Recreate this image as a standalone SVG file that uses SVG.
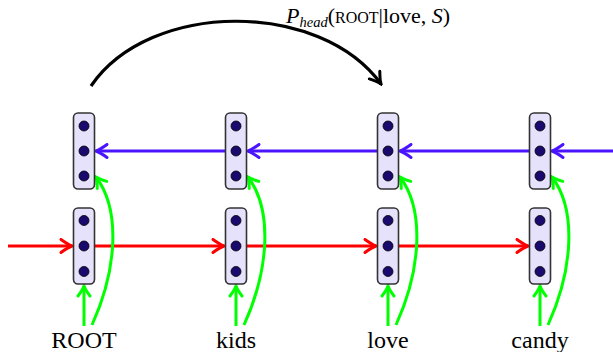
<svg xmlns="http://www.w3.org/2000/svg" width="613" height="352" viewBox="0 0 613 352">
<style>
.box{fill:#e6e2fb;stroke:#333;stroke-width:1.6}
.dot{fill:#1b0a6e;stroke:#000;stroke-width:0.8}
.red{stroke:#ff0000;stroke-width:3;fill:none;marker-end:url(#mr)}
.blue{stroke:#4a14ff;stroke-width:3;fill:none;marker-end:url(#mb)}
.green{stroke:#00ff00;stroke-width:3;fill:none;marker-end:url(#mg)}
.black{stroke:#000;stroke-width:3.2;fill:none;marker-end:url(#mk)}
.word{font-family:'Liberation Serif','DejaVu Serif','Times New Roman',serif;font-size:24px;fill:#000;text-anchor:middle}
.lab{font-family:'Liberation Serif','DejaVu Serif','Times New Roman',serif;font-size:22px;fill:#000}
</style>
<defs>
<marker id="mr" viewBox="-13 -8 15 16" refX="0" refY="0" markerWidth="15" markerHeight="16" markerUnits="userSpaceOnUse" orient="auto"><path d="M -11 -6.5 Q -4 -1.5 0 0 Q -4 1.5 -11 6.5" stroke="#ff0000" stroke-width="3" fill="none" stroke-linecap="round"/></marker>
<marker id="mb" viewBox="-13 -8 15 16" refX="0" refY="0" markerWidth="15" markerHeight="16" markerUnits="userSpaceOnUse" orient="auto"><path d="M -11 -6.5 Q -4 -1.5 0 0 Q -4 1.5 -11 6.5" stroke="#4a14ff" stroke-width="3" fill="none" stroke-linecap="round"/></marker>
<marker id="mg" viewBox="-13 -8 15 16" refX="0" refY="0" markerWidth="15" markerHeight="16" markerUnits="userSpaceOnUse" orient="auto"><path d="M -10 -6 Q -4 -1.5 0 0 Q -4 1.5 -10 6" stroke="#00ff00" stroke-width="3" fill="none" stroke-linecap="round"/></marker>
<marker id="mk" viewBox="-13 -8 15 16" refX="0" refY="0" markerWidth="15" markerHeight="16" markerUnits="userSpaceOnUse" orient="auto"><path d="M -11 -6.5 Q -4 -1.5 0 0 Q -4 1.5 -11 6.5" stroke="#000" stroke-width="3" fill="none" stroke-linecap="round"/></marker>
</defs>
<g id="connectors">
<path class="black" d="M 91 86 C 150 0, 320 0, 381 84"/>
<line class="red" x1="8" y1="246" x2="72" y2="246"/>
<line class="red" x1="94.5" y1="246" x2="224" y2="246"/>
<line class="red" x1="246.5" y1="246" x2="376" y2="246"/>
<line class="red" x1="398.5" y1="246" x2="528" y2="246"/>
<line class="blue" x1="613" y1="151" x2="552" y2="151"/>
<line class="blue" x1="529.5" y1="151" x2="400" y2="151"/>
<line class="blue" x1="377.5" y1="151" x2="248" y2="151"/>
<line class="blue" x1="225.5" y1="151" x2="96" y2="151"/>
<line class="green" x1="84" y1="326" x2="84" y2="286"/>
<line class="green" x1="236" y1="326" x2="236" y2="286"/>
<line class="green" x1="388" y1="326" x2="388" y2="286"/>
<line class="green" x1="540" y1="326" x2="540" y2="286"/>
<path class="green" d="M 92 325 C 117 270, 121 210, 96 177"/>
<path class="green" d="M 244 325 C 269 270, 273 210, 248 177"/>
<path class="green" d="M 396 325 C 421 270, 425 210, 400 177"/>
<path class="green" d="M 548 325 C 573 270, 577 210, 552 177"/>
</g>
<g id="label">
<text class="lab" x="286" y="23"><tspan font-style="italic">P</tspan><tspan font-style="italic" font-size="14.5" dy="4">head</tspan><tspan dy="-4">(</tspan><tspan font-size="16">ROOT</tspan>|love, <tspan font-style="italic">S</tspan>)</text>
</g>
<g id="n-root">
<rect class="box" x="73.5" y="113" width="21" height="76" rx="4.5"/>
<circle class="dot" cx="84" cy="126" r="5"/><circle class="dot" cx="84" cy="151" r="5"/><circle class="dot" cx="84" cy="176" r="5"/>
<rect class="box" x="73.5" y="208" width="21" height="76" rx="4.5"/>
<circle class="dot" cx="84" cy="220.5" r="5"/><circle class="dot" cx="84" cy="246" r="5"/><circle class="dot" cx="84" cy="271.5" r="5"/>
<text class="word" x="84" y="348" font-size="20">ROOT</text>
</g>
<g id="n-kids">
<rect class="box" x="225.5" y="113" width="21" height="76" rx="4.5"/>
<circle class="dot" cx="236" cy="126" r="5"/><circle class="dot" cx="236" cy="151" r="5"/><circle class="dot" cx="236" cy="176" r="5"/>
<rect class="box" x="225.5" y="208" width="21" height="76" rx="4.5"/>
<circle class="dot" cx="236" cy="220.5" r="5"/><circle class="dot" cx="236" cy="246" r="5"/><circle class="dot" cx="236" cy="271.5" r="5"/>
<text class="word" x="236" y="348">kids</text>
</g>
<g id="n-love">
<rect class="box" x="377.5" y="113" width="21" height="76" rx="4.5"/>
<circle class="dot" cx="388" cy="126" r="5"/><circle class="dot" cx="388" cy="151" r="5"/><circle class="dot" cx="388" cy="176" r="5"/>
<rect class="box" x="377.5" y="208" width="21" height="76" rx="4.5"/>
<circle class="dot" cx="388" cy="220.5" r="5"/><circle class="dot" cx="388" cy="246" r="5"/><circle class="dot" cx="388" cy="271.5" r="5"/>
<text class="word" x="388" y="348">love</text>
</g>
<g id="n-candy">
<rect class="box" x="529.5" y="113" width="21" height="76" rx="4.5"/>
<circle class="dot" cx="540" cy="126" r="5"/><circle class="dot" cx="540" cy="151" r="5"/><circle class="dot" cx="540" cy="176" r="5"/>
<rect class="box" x="529.5" y="208" width="21" height="76" rx="4.5"/>
<circle class="dot" cx="540" cy="220.5" r="5"/><circle class="dot" cx="540" cy="246" r="5"/><circle class="dot" cx="540" cy="271.5" r="5"/>
<text class="word" x="540" y="348">candy</text>
</g>
</svg>
